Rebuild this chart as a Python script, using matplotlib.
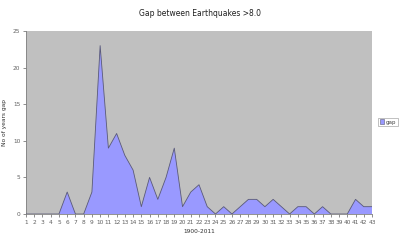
import matplotlib
matplotlib.use("Agg")
import matplotlib.pyplot as plt

categories = list(range(1, 44))
gap = [0, 0, 0, 0, 0, 3, 0, 0, 3, 23, 9, 11, 8, 6, 1, 5, 2, 5, 9, 1, 3, 4, 1, 0, 1, 0,
       1, 2, 2, 1, 2, 1, 0, 1, 1, 0, 1, 0, 0, 0, 2, 1, 1]
yticks = [0, 5, 10, 15, 20, 25]

fig = plt.figure(figsize=(4.0, 2.42), dpi=100)
ax = fig.add_axes([26/400, 1 - 214/242, (372 - 26)/400, (214 - 31)/242])
ax.set_facecolor('#C0C0C0')
ax.fill_between(categories, gap, 0, color='#9999FF', edgecolor='none', label='gap', zorder=2)
ax.plot(categories, gap, color='#5a5a78', lw=0.6, zorder=3)
ax.set_xlim(1, 43)
ax.set_ylim(0, 25)
ax.set_xticks(categories)
ax.set_xticklabels([str(c) for c in categories])
ax.set_yticks(yticks)
for s in ['top', 'right']:
    ax.spines[s].set_visible(False)
for s in ['left', 'bottom']:
    ax.spines[s].set_color('#808080')
    ax.spines[s].set_linewidth(0.6)
ax.tick_params(axis='both', labelsize=4.2, colors='#606060', length=2, width=0.5, pad=2)
ax.set_xlabel('1900-2011', fontsize=4.2, color='#303030', labelpad=3)
ax.set_ylabel('No of years gap', fontsize=4.2, color='#303030', labelpad=4)
fig.text(0.5, 1 - 13/242, 'Gap between Earthquakes >8.0', ha='center', va='center', fontsize=5.5, color='#202020')
from matplotlib.patches import Patch
leg = fig.legend(handles=[Patch(facecolor='#9999FF', edgecolor='#5a5a78', lw=0.4, label='gap')],
                 loc='center', bbox_to_anchor=(388/400, 1 - 122/242), fontsize=4, frameon=True,
                 handlelength=0.7, handleheight=0.9, handletextpad=0.3, borderpad=0.3, fancybox=False)
leg.get_frame().set_edgecolor('#909090')
leg.get_frame().set_linewidth(0.5)
for t in leg.get_texts():
    t.set_color('#404040')
fig.savefig('out.png', dpi=100)
